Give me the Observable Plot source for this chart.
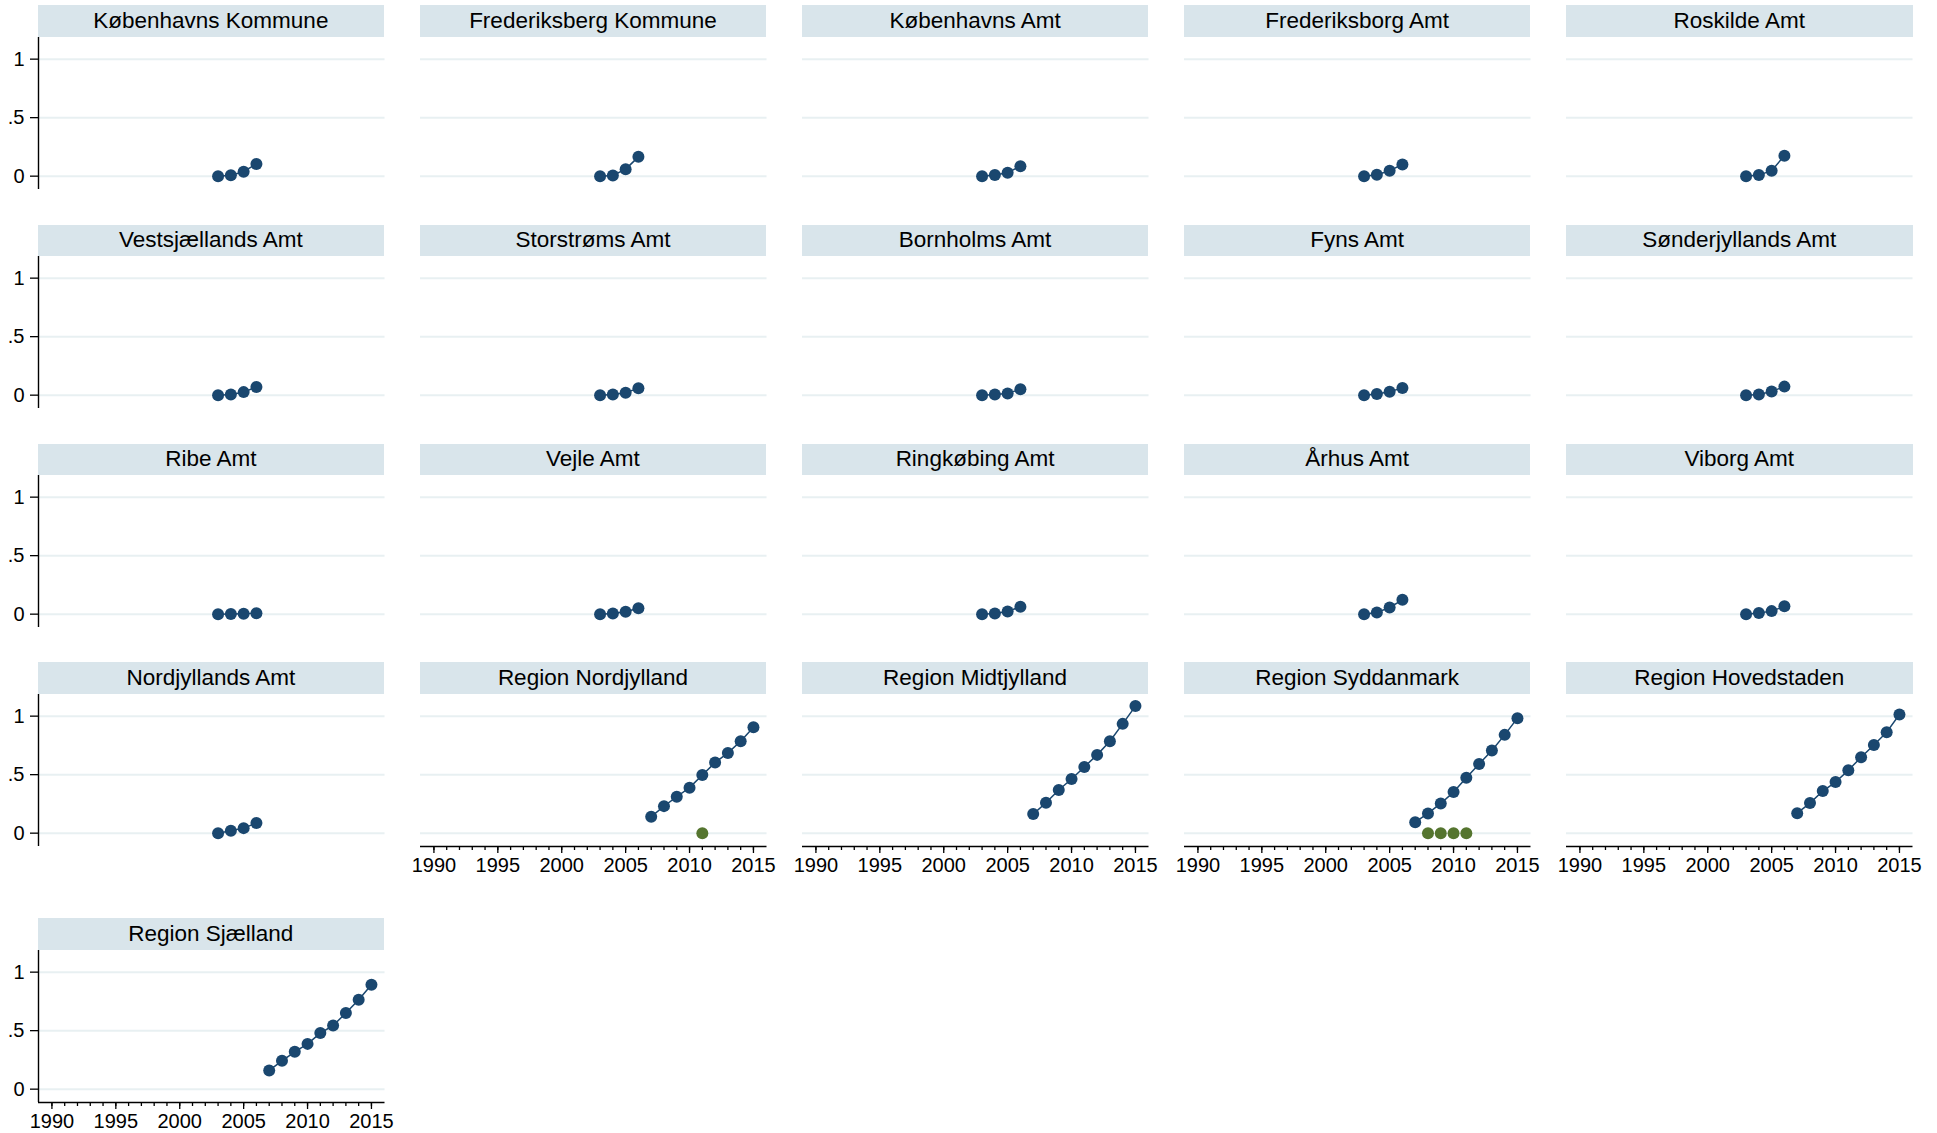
<!DOCTYPE html>
<html><head><meta charset="utf-8">
<script src="https://cdn.jsdelivr.net/npm/d3@7"></script>
<script src="https://cdn.jsdelivr.net/npm/@observablehq/plot@0.6"></script>
<style>
html,body{margin:0;padding:0;background:#fff;}
#chart{position:relative;width:1937px;height:1133px;font-family:"Liberation Sans",Arial,sans-serif;overflow:hidden;background:#fff;}
.strip{position:absolute;background:#d9e5eb;color:#000;font-size:22.5px;font-weight:normal;line-height:1;text-align:center;display:flex;align-items:center;justify-content:center;white-space:nowrap;}
.panel{position:absolute;}
</style></head><body><div id="chart"></div>
<script>
// ---- data ----
const panelNames = [
  "Københavns Kommune", "Frederiksberg Kommune", "Københavns Amt", "Frederiksborg Amt", "Roskilde Amt",
  "Vestsjællands Amt", "Storstrøms Amt", "Bornholms Amt", "Fyns Amt", "Sønderjyllands Amt",
  "Ribe Amt", "Vejle Amt", "Ringkøbing Amt", "Århus Amt", "Viborg Amt",
  "Nordjyllands Amt", "Region Nordjylland", "Region Midtjylland", "Region Syddanmark", "Region Hovedstaden",
  "Region Sjælland"
];
const amtYears = [2003, 2004, 2005, 2006];
const amtValues = [
  [0, 0.008, 0.038, 0.104],
  [0, 0.006, 0.060, 0.165],
  [0, 0.009, 0.030, 0.085],
  [0, 0.012, 0.047, 0.100],
  [0, 0.009, 0.047, 0.175],
  [0, 0.006, 0.026, 0.070],
  [0, 0.006, 0.020, 0.060],
  [0, 0.006, 0.015, 0.050],
  [0, 0.009, 0.030, 0.062],
  [0, 0.006, 0.032, 0.073],
  [0, 0.002, 0.004, 0.008],
  [0, 0.006, 0.020, 0.050],
  [0, 0.006, 0.023, 0.064],
  [0, 0.014, 0.057, 0.123],
  [0, 0.009, 0.026, 0.067],
  [0, 0.020, 0.043, 0.086]
];
const regionYears = [2007, 2008, 2009, 2010, 2011, 2012, 2013, 2014, 2015];
const regionValues = [
  [0.140, 0.231, 0.311, 0.389, 0.497, 0.603, 0.686, 0.786, 0.906],
  [0.163, 0.260, 0.369, 0.463, 0.566, 0.669, 0.786, 0.934, 1.086],
  [0.094, 0.169, 0.254, 0.351, 0.474, 0.591, 0.706, 0.840, 0.983],
  [0.171, 0.257, 0.360, 0.437, 0.537, 0.649, 0.754, 0.863, 1.014],
  [0.160, 0.242, 0.319, 0.387, 0.479, 0.544, 0.650, 0.764, 0.892]
];
const greenPanels = ["Region Nordjylland", "Region Syddanmark"];
const greenYears = [[2011], [2008, 2009, 2010, 2011]];
const greenValues = [[0], [0, 0, 0, 0]];
const yTicks = [0, 0.5, 1];
const yTickLabels = ["0", ".5", "1"];
const xMajorTicks = [1990, 1995, 2000, 2005, 2010, 2015];
const xMinorTicks = d3.range(1990, 2016);

// ---- layout ----
const xDomain = [1988.95, 2016.06];
const yDomain = [-0.114, 1.185];
const plotW = 346.5, plotH = 152, headerH = 31.5;
const colLeft = c => 37.6 + 382.1 * c;
const headerTop = [5, 224.5, 443.5, 662, 918.3];
const ML = 50, MR = 12, MT = 6, MB = 45;
const navy = "#1a476f", green = "#55752f", gridColor = "#e8f0f2";

const chart = document.getElementById("chart");

panelNames.forEach((name, i) => {
  const r = Math.floor(i / 5), c = i % 5;
  const left = colLeft(c), top = headerTop[r];
  const strip = document.createElement("div");
  strip.className = "strip";
  strip.style.left = left + "px";
  strip.style.top = top + "px";
  strip.style.width = plotW + "px";
  strip.style.height = headerH + "px";
  strip.textContent = name;
  chart.appendChild(strip);

  let series;
  if (i < amtValues.length) {
    series = amtYears.map((y, k) => ({year: y, value: amtValues[i][k]}));
  } else {
    const j = i - amtValues.length;
    series = regionYears.map((y, k) => ({year: y, value: regionValues[j][k]}));
  }
  const gi = greenPanels.indexOf(name);
  const greenData = gi >= 0 ? greenYears[gi].map((y, k) => ({year: y, value: greenValues[gi][k]})) : [];

  const showY = c === 0;
  const showX = (r === 3 && c > 0) || r === 4;

  const marks = [Plot.ruleY(yTicks, {stroke: gridColor, strokeWidth: 2})];
  if (showY) {
    marks.push(Plot.ruleX([xDomain[0]], {stroke: "#000", strokeWidth: 1.4}));
    marks.push(Plot.axisY({ticks: yTicks, tickFormat: d => yTickLabels[yTicks.indexOf(d)], tickSize: 8, tickPadding: 6, fontSize: 20, label: null, strokeWidth: 1.3}));
  }
  if (showX) {
    marks.push(Plot.ruleY([yDomain[0]], {stroke: "#000", strokeWidth: 1.4}));
    marks.push(Plot.axisX({ticks: xMinorTicks, tickFormat: () => "", tickSize: 4, label: null, strokeWidth: 1.3}));
    marks.push(Plot.axisX({ticks: xMajorTicks, tickFormat: d => String(d), tickSize: 7, tickPadding: 4, fontSize: 20, label: null, strokeWidth: 1.3}));
  }
  marks.push(Plot.line(series, {x: "year", y: "value", stroke: navy, strokeWidth: 1.5}));
  marks.push(Plot.dot(series, {x: "year", y: "value", r: 6, fill: navy, stroke: null}));
  if (greenData.length) marks.push(Plot.dot(greenData, {x: "year", y: "value", r: 6, fill: green, stroke: null}));

  const svg = Plot.plot({
    width: ML + plotW + MR,
    height: MT + plotH + MB,
    marginLeft: ML, marginRight: MR, marginTop: MT, marginBottom: MB,
    x: {domain: xDomain, axis: showX ? undefined : null},
    y: {domain: yDomain, axis: showY ? undefined : null},
    style: {fontFamily: "'Liberation Sans', Arial, sans-serif", fontSize: "20px", color: "#000", background: "transparent", overflow: "visible"},
    marks
  });
  svg.classList.add("panel");
  svg.style.position = "absolute";
  svg.style.left = (left - ML) + "px";
  svg.style.top = (top + headerH - MT) + "px";
  chart.appendChild(svg);
});
</script>
</body></html>
